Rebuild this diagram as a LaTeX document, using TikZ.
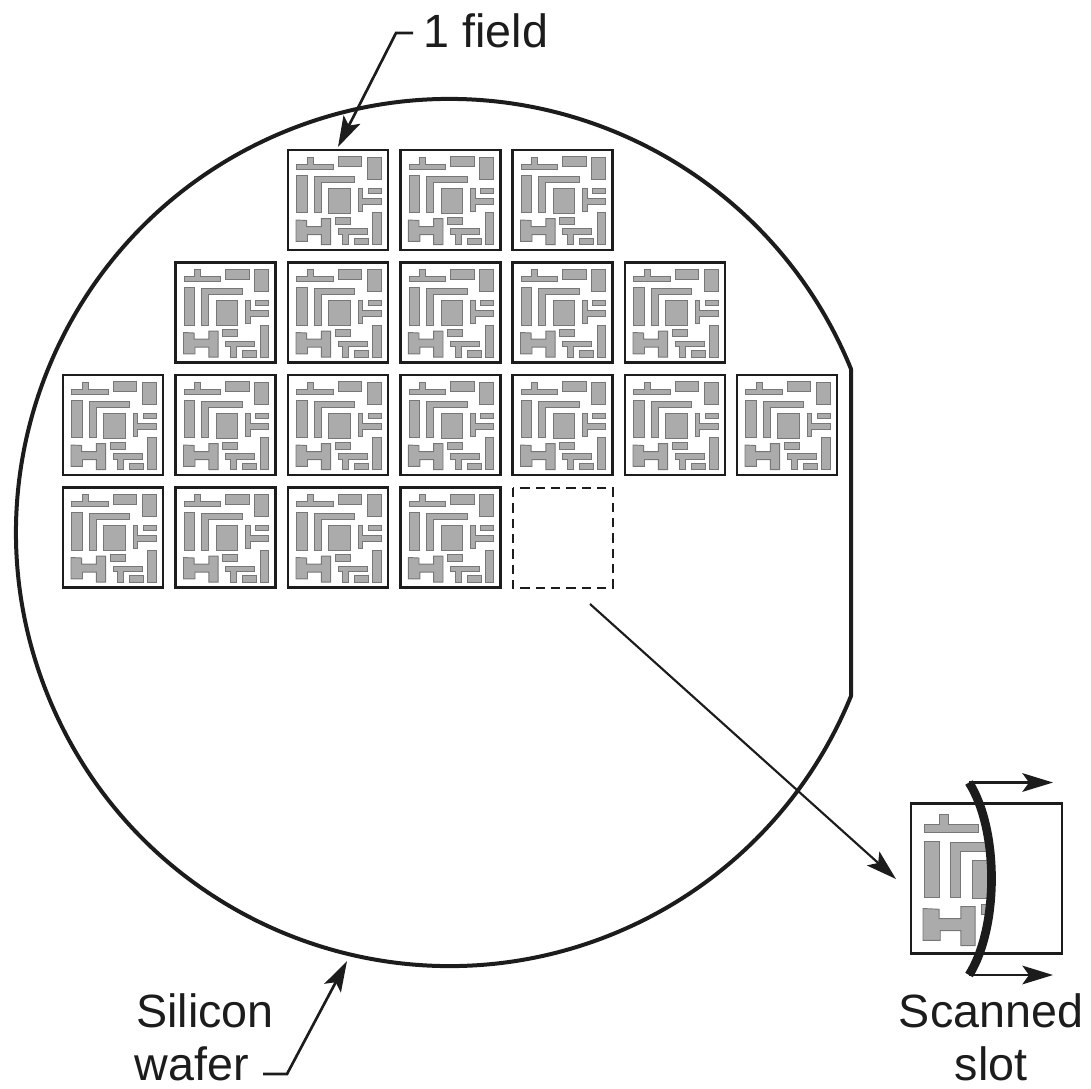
\documentclass[tikz,border=0pt]{standalone}
\usepackage{fontspec}
\setmainfont{Liberation Sans}
\usetikzlibrary{arrows.meta}
\definecolor{ink}{HTML}{1C1C1C}
\definecolor{chip}{HTML}{ABABAB}
\definecolor{chipedge}{HTML}{777777}
\newcommand{\chipshapes}{%
  \filldraw[chipstyle] (8.7,14) -- (19.3,14) -- (19.3,7.3) -- (25.3,7.3) -- (25.3,14) -- (45.3,14) -- (45.3,19) -- (8.7,19) -- cycle;
  \filldraw[chipstyle] (50,6.7) rectangle (73.7,16.7);
  \filldraw[chipstyle] (79.3,7.3) rectangle (93.3,29);
  \filldraw[chipstyle] (8.7,25) rectangle (19.3,62.7);
  \filldraw[chipstyle] (26,26) -- (66.7,26) -- (66.7,32) -- (33.3,32) -- (33.3,62.7) -- (26,62.7) -- cycle;
  \filldraw[chipstyle] (40.7,38) rectangle (62,63.3);
  \filldraw[chipstyle] (70,38) -- (74.7,38) -- (74.7,48) -- (93.3,48) -- (93.3,54) -- (74.7,54) -- (74.7,61.3) -- (70,61.3) -- cycle;
  \filldraw[chipstyle] (80,38) rectangle (93.3,43.3);
  \filldraw[chipstyle] (8,70) -- (18.7,70.5) -- (18.7,76.7) -- (33.3,76.7) -- (33.3,68.7) -- (42.7,68.7) -- (42.7,94.7) -- (33.3,94.7) -- (33.3,84.7) -- (19.5,84.7) -- (19.5,91.3) -- (8,91.3) -- cycle;
  \filldraw[chipstyle] (47.3,67.3) rectangle (62,74);
  \filldraw[chipstyle] (50,78.7) -- (79.3,78.7) -- (79.3,84) -- (60.7,84) -- (60.7,94.7) -- (54.7,94.7) -- (54.7,84) -- (50,84) -- cycle;
  \filldraw[chipstyle] (66.7,88) rectangle (80.7,94.7);
  \filldraw[chipstyle] (84.7,62.7) rectangle (93.3,94.7);
}
\tikzset{
  chipstyle/.style={fill=chip,draw=chipedge,line width=0.7pt},
  fieldbox/.style={draw=ink,line width=2.2pt},
  leader/.style={draw=ink,line width=2pt,-{Stealth[length=23pt,width=14pt,inset=5pt]}},
  thinleader/.style={draw=ink,line width=1.6pt,-{Stealth[length=23pt,width=14pt,inset=5pt]}},
  wafer/.style={draw=ink,line width=3pt},
  label/.style={font=\fontsize{35}{36}\selectfont,text=ink,inner sep=0pt,anchor=base},
  field/.pic={\chipshapes \draw[fieldbox] (0,0) rectangle (100,100);},
}
\begin{document}
\begin{tikzpicture}[x=0.75pt,y=-0.75pt]
\useasboundingbox (0,0) rectangle (1091,1088);
% wafer
\draw[wafer,line join=round] (851,369) arc[start angle=-22.16,end angle=-337.84,radius=433.5] -- cycle;
% fields
\foreach \px in {288,400.3,512.5} \pic[shift={(\px,150)}] {field};
\foreach \px in {175.5,288,400.3,512.5,625} \pic[shift={(\px,262.5)}] {field};
\foreach \px in {63,175.5,288,400.3,512.5,625,737} \pic[shift={(\px,375)}] {field};
\foreach \px in {63,175.5,288,400.3} \pic[shift={(\px,487.5)}] {field};
\draw[draw=ink,line width=1.8pt,dash pattern=on 7pt off 4.5pt] (513,488) rectangle (613,588);
% enlarged field
\begin{scope}
  \clip (900,780) -- (969,782) .. controls (999,830) and (999,927) .. (969,975) -- (900,975) -- cycle;
  \begin{scope}[shift={(911,803.5)},scale=1.5]
    \chipshapes
  \end{scope}
\end{scope}
\draw[fieldbox] (911,803.5) rectangle (1062,953.5);
% slot
\coordinate (slotT) at (969,782.5);
\coordinate (slotB) at (969,975);
\coordinate (slotTend) at (1053,782.5);
\coordinate (slotBend) at (1053,975);
\draw[thinleader] (slotT) -- (slotTend);
\draw[thinleader] (slotB) -- (slotBend);
\draw[ink,line width=6.5pt] (slotT) .. controls (999,830) and (999,927) .. (slotB);
% leaders
\coordinate (dashStart) at (590,604);
\coordinate (bigField) at (896,879);
\draw[thinleader] (dashStart) -- (bigField);
% labels
\node[label] (onefield) at (486,48) {1 field};
\node[label] (silicon) at (205,1027) {Silicon};
\node[label] (waferlbl) at (192,1080) {wafer};
\node[label] (scanned) at (991,1027) {Scanned};
\node[label] (slotlbl) at (991,1080) {slot};
\coordinate (fieldTip) at (338,147);
\coordinate (waferTip) at (347,961);
\draw[leader] (413,33) -- (396,33) -- (fieldTip);
\draw[leader] (263,1074) -- (287,1074) -- (waferTip);
\end{tikzpicture}
\end{document}
